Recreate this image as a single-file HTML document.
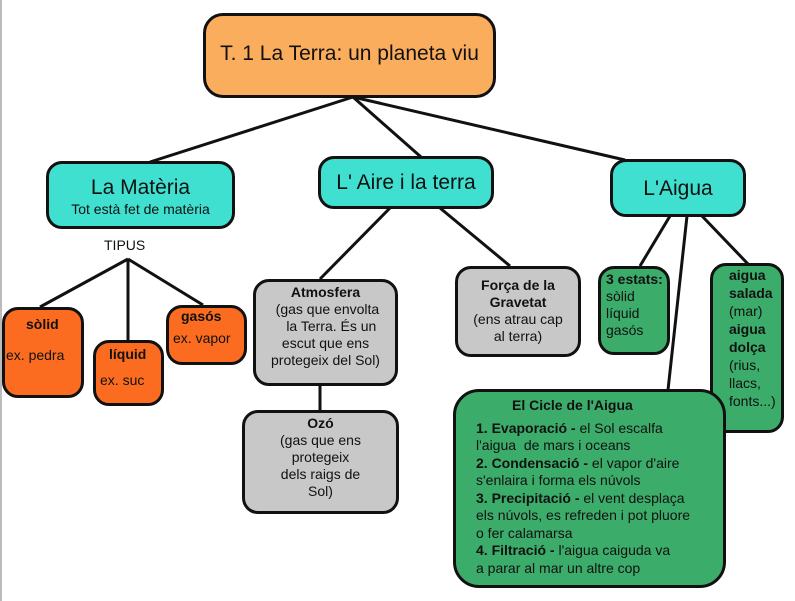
<!DOCTYPE html>
<html><head><meta charset="utf-8"><style>
body{margin:0;width:795px;height:601px;background:#fff;position:relative;overflow:hidden;font-family:"Liberation Sans",sans-serif;color:#111}
.b{position:absolute;border:3px solid #111;border-radius:16px;box-sizing:border-box}
.t{position:absolute;font-size:14px;line-height:17px}
.o{background:#fb6c20}.g{background:#c8c8c8}.gr{background:#3cac6a}.c{background:#3fe0cf}
</style></head><body>
<div style="position:absolute;left:0;top:0;width:2px;height:601px;background:#bbb"></div>
<svg width="795" height="601" style="position:absolute;left:0;top:0">
<g stroke="#111" stroke-width="3" fill="none">
<line x1="353" y1="97" x2="150" y2="162"/>
<line x1="353" y1="97" x2="421" y2="157"/>
<line x1="353" y1="97" x2="625" y2="160"/>
<line x1="128" y1="259" x2="40" y2="307"/>
<line x1="128" y1="259" x2="128" y2="341"/>
<line x1="128" y1="259" x2="203" y2="305"/>
<line x1="390" y1="208" x2="320" y2="279"/>
<line x1="440" y1="208" x2="510" y2="266"/>
<line x1="320" y1="385" x2="320" y2="410"/>
<line x1="670" y1="216" x2="640" y2="266"/>
<line x1="687" y1="216" x2="668" y2="390"/>
<line x1="702" y1="216" x2="748" y2="264"/>
</g></svg>
<div class="b" style="left:203px;top:13px;width:293px;height:85px;background:#fbad5e;border-radius:20px;font-size:21px;text-align:center;line-height:76px">T. 1 La Terra: un planeta viu</div>
<div class="b c" style="left:46px;top:161px;width:189px;height:68px;text-align:center"><div style="font-size:21px;margin-top:12px">La Matèria</div><div style="font-size:14px;margin-top:1px">Tot està fet de matèria</div></div>
<div class="b c" style="left:318px;top:156px;width:176px;height:53px;text-align:center;font-size:21px;line-height:47px">L' Aire i la terra</div>
<div class="b c" style="left:610px;top:159px;width:136px;height:58px;text-align:center;font-size:21px;line-height:54px">L'Aigua</div>
<div class="t" style="left:104px;top:237px">TIPUS</div>
<div class="b o" style="left:2px;top:307px;width:82px;height:91px"><div class="t" style="left:21px;top:6px;font-weight:bold">sòlid</div><div class="t" style="left:1px;top:37px">ex. pedra</div></div>
<div class="b o" style="left:93px;top:340px;width:71px;height:66px"><div class="t" style="left:13px;top:3px;font-weight:bold">líquid</div><div class="t" style="left:4px;top:29px">ex. suc</div></div>
<div class="b o" style="left:166px;top:305px;width:81px;height:60px"><div class="t" style="left:12px;top:0px;font-weight:bold">gasós</div><div class="t" style="left:4px;top:22px">ex. vapor</div></div>
<div class="b g" style="left:253px;top:279px;width:145px;height:107px;text-align:center;font-size:14px;line-height:17px;padding-top:2px">
<b>Atmosfera</b><br>&nbsp;(gas que envolta<br>&nbsp;&nbsp;&nbsp;la Terra. És un<br>escut que ens<br>protegeix del Sol)</div>
<div class="b g" style="left:242px;top:410px;width:157px;height:104px;text-align:center;font-size:14px;line-height:17px;padding-top:2px">
<b>Ozó</b><br>(gas que ens<br>protegeix<br>dels raigs de<br>Sol)</div>
<div class="b g" style="left:455px;top:266px;width:126px;height:91px;text-align:center;font-size:14px;line-height:17px;padding-top:8px">
<b>Força de la<br>Gravetat</b><br>(ens atrau cap<br>al terra)</div>
<div class="b gr" style="left:598px;top:266px;width:72px;height:89px;font-size:14px;line-height:17px;padding:2px 0 0 5px;white-space:nowrap;overflow:hidden"><b>3 estats:</b><br>sòlid<br>líquid<br>gasós</div>
<div class="b gr" style="left:710px;top:263px;width:74px;height:170px;font-size:14px;line-height:18px;padding:0 0 0 16px;white-space:nowrap;overflow:hidden"><b>aigua<br>salada</b><br>(mar)<br><b>aigua<br>dolça</b><br>(rius,<br>llacs,<br>fonts...)</div>
<div class="b gr" style="left:453px;top:389px;width:273px;height:199px;border-radius:26px;font-size:14px;line-height:17.5px;padding:5px 0 0 20px">
<div style="font-weight:bold;margin-left:36px;margin-bottom:5px">El Cicle de l'Aigua</div>
<b>1. Evaporació -</b> el Sol escalfa<br>l'aigua&nbsp; de mars i oceans<br><b>2. Condensació -</b> el vapor d'aire<br>s'enlaira i forma els núvols<br><b>3. Precipitació -</b> el vent desplaça<br>els núvols, es refreden i pot pluore<br>o fer calamarsa<br><b>4. Filtració -</b> l'aigua caiguda va<br>a parar al mar un altre cop</div>
</body></html>
